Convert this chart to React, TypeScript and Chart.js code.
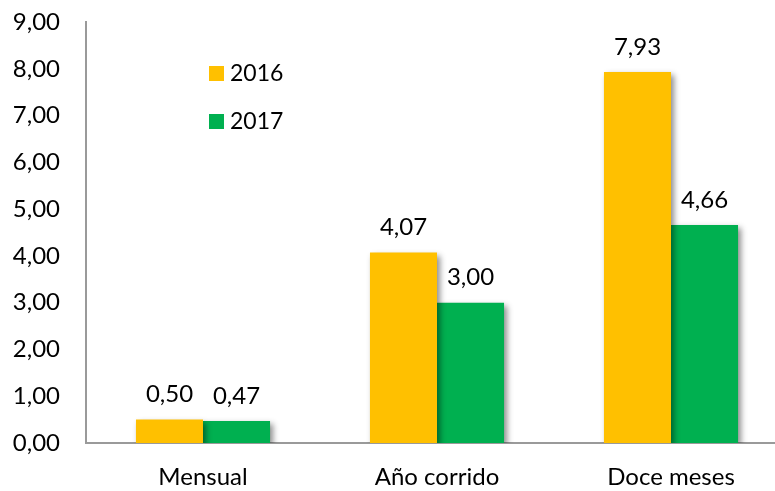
import React, { useEffect, useRef } from "react";
import { Chart, registerables } from "chart.js";

Chart.register(...registerables);

const categories = ["Mensual", "Año corrido", "Doce meses"];
const seriesNames = ["2016", "2017"];
const values2016 = [0.5, 4.07, 7.93];
const values2017 = [0.47, 3.0, 4.66];
const colors = ["#FFC000", "#00B050"];

const FONT = "Lato, 'Open Sans', sans-serif";
const fmt = (v: number) => v.toFixed(2).replace(".", ",");

const shadowPlugin = {
  id: "barShadow",
  beforeDatasetDraw(chart: any) {
    const ctx = chart.ctx;
    ctx.save();
    ctx.shadowColor = "rgba(0,0,0,0.45)";
    ctx.shadowBlur = 6;
    ctx.shadowOffsetX = 3;
    ctx.shadowOffsetY = 3;
  },
  afterDatasetDraw(chart: any) {
    chart.ctx.restore();
  },
};

const labelsPlugin = {
  id: "valueLabels",
  afterDatasetsDraw(chart: any) {
    const ctx = chart.ctx;
    ctx.save();
    ctx.font = `24px ${FONT}`;
    ctx.fillStyle = "#000";
    ctx.textAlign = "center";
    ctx.textBaseline = "bottom";
    chart.data.datasets.forEach((ds: any, i: number) => {
      const meta = chart.getDatasetMeta(i);
      meta.data.forEach((bar: any, j: number) => {
        ctx.fillText(fmt(ds.data[j]), bar.x, bar.y - 13);
      });
    });
    // legend
    const left = chart.chartArea.left;
    const top = chart.chartArea.top;
    ctx.textAlign = "left";
    ctx.textBaseline = "middle";
    ctx.font = `23px ${FONT}`;
    seriesNames.forEach((name, i) => {
      const y = top + 44 + i * 48;
      ctx.fillStyle = colors[i];
      ctx.fillRect(left + 123, y, 15, 15);
      ctx.fillStyle = "#000";
      ctx.fillText(name, left + 144, y + 8);
    });
    ctx.restore();
  },
};

export default function App() {
  const ref = useRef<HTMLCanvasElement>(null);
  useEffect(() => {
    document.body.style.margin = "0";
    const chart = new Chart(ref.current!, {
      type: "bar",
      data: {
        labels: categories,
        datasets: [
          { label: seriesNames[0], data: values2016, backgroundColor: colors[0] },
          { label: seriesNames[1], data: values2017, backgroundColor: colors[1] },
        ],
      },
      plugins: [shadowPlugin, labelsPlugin],
      options: {
        animation: false,
        responsive: false,
        layout: { padding: { top: 22, right: 0, left: 0, bottom: 0 } },
        datasets: { bar: { categoryPercentage: 0.573, barPercentage: 1 } },
        plugins: { legend: { display: false }, tooltip: { enabled: false } },
        scales: {
          x: {
            grid: { display: false, drawTicks: false },
            border: { display: true, color: "#9a9a9a", width: 2 },
            ticks: { color: "#000", font: { family: FONT, size: 24 }, padding: 20 },
            afterFit: (s: any) => {
              s.height = 48;
              s.paddingLeft = 0;
              s.paddingRight = 0;
            },
          },
          y: {
            min: 0,
            max: 9,
            grid: { display: false, drawTicks: false },
            border: { display: true, color: "#9a9a9a", width: 2 },
            ticks: {
              stepSize: 1,
              color: "#000",
              font: { family: FONT, size: 24 },
              padding: 26,
              callback: (v: any) => fmt(Number(v)),
            },
            afterFit: (s: any) => {
              s.width = 86;
              s.paddingTop = 0;
              s.paddingBottom = 0;
            },
          },
        },
      },
    });
    return () => chart.destroy();
  }, []);
  return (
    <div style={{ width: 775, height: 491, overflow: "hidden" }}>
      <canvas ref={ref} width={788} height={491} style={{ display: "block" }} />
    </div>
  );
}
